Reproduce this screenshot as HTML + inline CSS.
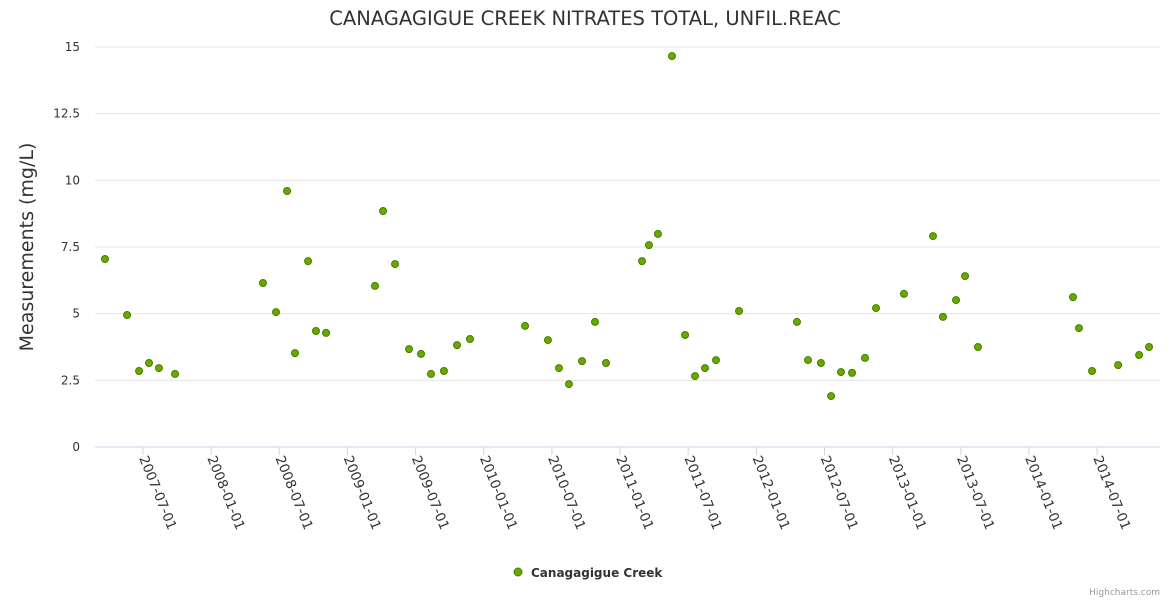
<!DOCTYPE html>
<html><head><meta charset="utf-8">
<style>
body{margin:0;background:#fff;}
svg{display:block;font-family:"DejaVu Sans","Liberation Sans",sans-serif;}
</style></head>
<body>
<svg id="chart" width="1170" height="600">
<text x="585" y="25" text-anchor="middle" font-size="19.5" fill="#333">CANAGAGIGUE CREEK NITRATES TOTAL, UNFIL.REAC</text>
<text transform="translate(33,247) rotate(-90)" text-anchor="middle" font-size="19" fill="#333">Measurements (mg/L)</text>
<g id="grid"></g><g id="xaxis"></g><g id="points"></g>
<g>
<circle cx="518" cy="572" r="4" fill="#66aa00" stroke="#4a7d00" stroke-width="1"/>
<text x="531" y="577" font-size="12" font-weight="bold" fill="#333">Canagagigue Creek</text>
</g>
<text x="1160" y="595" text-anchor="end" font-size="9" fill="#999">Highcharts.com</text>
</svg>
<script>
const yTicks=[0,2.5,5,7.5,10,12.5,15];
const yTickLabels=["0","2.5","5","7.5","10","12.5","15"];
const xTicks=[2007.5,2008,2008.5,2009,2009.5,2010,2010.5,2011,2011.5,2012,2012.5,2013,2013.5,2014,2014.5];
const xTickLabels=["2007-07-01","2008-01-01","2008-07-01","2009-01-01","2009-07-01","2010-01-01","2010-07-01","2011-01-01","2011-07-01","2012-01-01","2012-07-01","2013-01-01","2013-07-01","2014-01-01","2014-07-01"];
const dates=[2007.221,2007.383,2007.471,2007.544,2007.617,2007.735,2008.38,2008.476,2008.557,2008.615,2008.711,2008.769,2008.843,2009.202,2009.261,2009.349,2009.452,2009.54,2009.613,2009.708,2009.804,2009.899,2010.303,2010.471,2010.552,2010.625,2010.721,2010.816,2010.897,2011.161,2011.212,2011.278,2011.381,2011.477,2011.55,2011.623,2011.704,2011.873,2012.298,2012.379,2012.474,2012.548,2012.621,2012.702,2012.797,2012.878,2013.083,2013.296,2013.369,2013.465,2013.531,2013.626,2014.323,2014.367,2014.463,2014.654,2014.808,2014.881];
const values=[7.05,4.95,2.85,3.15,2.96,2.74,6.15,5.06,9.6,3.52,6.97,4.35,4.28,6.04,8.85,6.86,3.67,3.49,2.74,2.85,3.82,4.05,4.54,4.01,2.96,2.36,3.22,4.69,3.15,6.97,7.57,7.99,14.66,4.2,2.66,2.96,3.26,5.1,4.69,3.26,3.15,1.91,2.81,2.78,3.34,5.21,5.74,7.91,4.88,5.51,6.41,3.75,5.62,4.46,2.85,3.07,3.45,3.75];
const NS="http://www.w3.org/2000/svg";
const L=95,R=1160;
function X(t){return 143+(t-2007.5)*136.3;}
function Y(v){return 447-v*(400/15);}
function mk(tag,attrs,parent){const e=document.createElementNS(NS,tag);for(const k in attrs)e.setAttribute(k,attrs[k]);parent.appendChild(e);return e;}
const grid=document.getElementById('grid');
yTicks.forEach((v,i)=>{
  const ln=mk('line',{x1:L,x2:R,y1:Y(v),y2:Y(v),stroke:v===0?'#ccd6eb':'#e6e6e6','stroke-width':1},grid);
  
  
  const t=mk('text',{x:80,y:Y(v)+4,'text-anchor':'end','font-size':12,fill:'#333'},grid);
  t.textContent=yTickLabels[i];
  
  
});
const xa=document.getElementById('xaxis');
xTicks.forEach((v,i)=>{
  const x=X(v);
  const tk=mk('line',{x1:x,x2:x,y1:447,y2:455,stroke:'#ccd6eb'},xa);
  
  
  const t=mk('text',{transform:`translate(${x-4},458) rotate(68)`,'font-size':13.5,fill:'#333'},xa);
  t.textContent=xTickLabels[i];
  
  
});
const pts=document.getElementById('points');
dates.forEach((d,i)=>{
  const c=mk('circle',{cx:X(d),cy:Y(values[i]),r:3.5,fill:'#66aa00',stroke:'#4a7d00','stroke-width':1},pts);
  
  
});
</script>
</body></html>
